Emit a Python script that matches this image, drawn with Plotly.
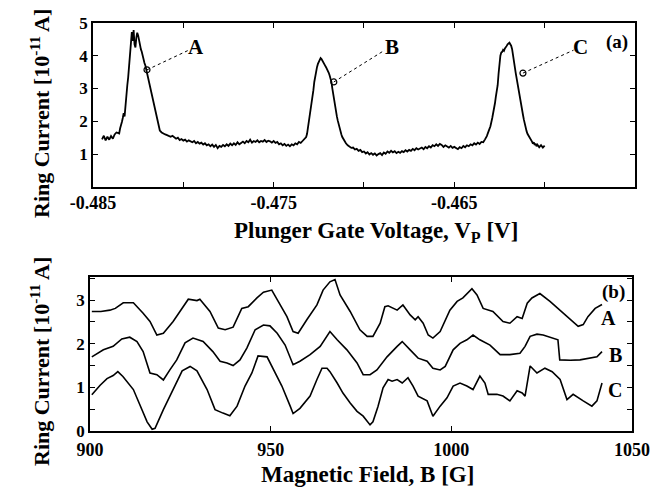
import plotly.graph_objects as go

# ---------------- panel (a) data ----------------
vp = [-0.4845, -0.4844, -0.4843, -0.4842, -0.4841, -0.4840, -0.4839, -0.4838, -0.4837, -0.48355,
      -0.4835, -0.48345, -0.4834, -0.48335, -0.4833, -0.48325, -0.4832, -0.48315, -0.4831, -0.48305,
      -0.4830, -0.48295, -0.4829, -0.48285, -0.4828, -0.48275, -0.4827, -0.48265, -0.4826, -0.48255,
      -0.4825, -0.48245, -0.4824, -0.48235, -0.4823, -0.48225, -0.4822, -0.48215, -0.4821, -0.48205,
      -0.4820, -0.48195, -0.4819, -0.48185, -0.4818, -0.48175, -0.4817, -0.48165, -0.4816, -0.48155,
      -0.4815, -0.48145, -0.4814, -0.48135, -0.4813, -0.4812, -0.4811, -0.4810, -0.4809, -0.4808,
      -0.4807, -0.4806, -0.4805, -0.4804, -0.4803, -0.4802, -0.4801, -0.4800, -0.4799, -0.4798,
      -0.4797, -0.4796, -0.4795, -0.4794, -0.4793, -0.4792, -0.4791, -0.4790, -0.4789, -0.4788,
      -0.4787, -0.4786, -0.4785, -0.4784, -0.4783, -0.4782, -0.4781, -0.4780, -0.4779, -0.4778,
      -0.4777, -0.4776, -0.4775, -0.4774, -0.4773, -0.4772, -0.4771, -0.4770, -0.4769, -0.4768,
      -0.4767, -0.4766, -0.4765, -0.4764, -0.4763, -0.4762, -0.4761, -0.4760, -0.4759, -0.4758,
      -0.4757, -0.4756, -0.4755, -0.4754, -0.4753, -0.4752, -0.4751, -0.4750, -0.4749, -0.4748,
      -0.4747, -0.4746, -0.4745, -0.4744, -0.4743, -0.4742, -0.4741, -0.4740, -0.4739, -0.4738,
      -0.4737, -0.4736, -0.4735, -0.4734, -0.4733, -0.4732, -0.47315, -0.4731, -0.47305, -0.4730,
      -0.47295, -0.4729, -0.47285, -0.4728, -0.47275, -0.4727, -0.47265, -0.4726, -0.47255, -0.4725,
      -0.47245, -0.4724, -0.47235, -0.4723, -0.47225, -0.4722, -0.47215, -0.4721, -0.47205, -0.4720,
      -0.47195, -0.4719, -0.47185, -0.4718, -0.47175, -0.4717, -0.47165, -0.4716, -0.47155, -0.4715,
      -0.47145, -0.4714, -0.47135, -0.4713, -0.47125, -0.4712, -0.47115, -0.4711, -0.47105, -0.4710,
      -0.4709, -0.4708, -0.4707, -0.4706, -0.4705, -0.4704, -0.4703, -0.4702, -0.4701, -0.4700,
      -0.4699, -0.4698, -0.4697, -0.4696, -0.4695, -0.4694, -0.4693, -0.4692, -0.4691, -0.4690,
      -0.4689, -0.4688, -0.4687, -0.4686, -0.4685, -0.4684, -0.4683, -0.4682, -0.4681, -0.4680,
      -0.4679, -0.4678, -0.4677, -0.4676, -0.4675, -0.4674, -0.4673, -0.4672, -0.4671, -0.4670,
      -0.4669, -0.4668, -0.4667, -0.4666, -0.4665, -0.4664, -0.4663, -0.4662, -0.4661, -0.4660,
      -0.4659, -0.4658, -0.4657, -0.4656, -0.4655, -0.4654, -0.4653, -0.4652, -0.4651, -0.4650,
      -0.4649, -0.4648, -0.4647, -0.4646, -0.4645, -0.4644, -0.4643, -0.4642, -0.4641, -0.4640,
      -0.4639, -0.4638, -0.4637, -0.4636, -0.4635, -0.4634, -0.4633, -0.4632, -0.4631, -0.4630,
      -0.4629, -0.4628, -0.46275, -0.4627, -0.46265, -0.4626, -0.46255, -0.4625, -0.46245, -0.4624,
      -0.46235, -0.4623, -0.46225, -0.4622, -0.46215, -0.4621, -0.46205, -0.4620, -0.46195, -0.4619,
      -0.46185, -0.4618, -0.46175, -0.4617, -0.46165, -0.4616, -0.46155, -0.4615, -0.46145, -0.4614,
      -0.46135, -0.4613, -0.46125, -0.4612, -0.46115, -0.4611, -0.46105, -0.4610, -0.46095, -0.4609,
      -0.46085, -0.4608, -0.46075, -0.4607, -0.46065, -0.4606, -0.46055, -0.4605, -0.46045, -0.4604,
      -0.4603, -0.4602, -0.4601, -0.4600, -0.4599, -0.4598, -0.4597, -0.4596, -0.4595, -0.4594,
      -0.4593, -0.4592, -0.4591, -0.4590]
ring_a = [1.45, 1.56, 1.42, 1.53, 1.44, 1.55, 1.47, 1.60, 1.66, 1.63,
          1.78, 1.85, 1.98, 2.10, 2.25, 2.15, 2.55, 2.70, 3.10, 3.35,
          3.70, 3.95, 4.30, 4.72, 4.45, 4.78, 4.35, 4.25, 4.55, 4.70,
          4.62, 4.45, 4.38, 4.20, 4.12, 3.98, 3.90, 3.78, 3.70, 3.57,
          3.50, 3.35, 3.22, 3.05, 2.92, 2.80, 2.70, 2.58, 2.45, 2.30,
          2.15, 2.00, 1.88, 1.76, 1.72, 1.66, 1.62, 1.60, 1.58, 1.55,
          1.53, 1.56, 1.50, 1.47, 1.50, 1.43, 1.46, 1.41, 1.44, 1.38,
          1.42, 1.40, 1.36, 1.40, 1.33, 1.37, 1.32, 1.35, 1.29, 1.33,
          1.27, 1.30, 1.24, 1.29, 1.22, 1.28, 1.18, 1.25, 1.22, 1.28,
          1.24, 1.30, 1.25, 1.32, 1.27, 1.33, 1.28, 1.36, 1.30, 1.34,
          1.38, 1.33, 1.40, 1.36, 1.44, 1.35, 1.40, 1.37, 1.42, 1.36,
          1.40, 1.38, 1.43, 1.37, 1.41, 1.39, 1.35, 1.40, 1.34, 1.37,
          1.30, 1.33, 1.27, 1.31, 1.25, 1.29, 1.24, 1.30, 1.27, 1.33,
          1.30, 1.37, 1.34, 1.40, 1.45, 1.52, 1.62, 1.80, 1.95, 2.10,
          2.30, 2.50, 2.70, 2.95, 3.20, 3.40, 3.55, 3.65, 3.75, 3.82,
          3.88, 3.93, 3.90, 3.86, 3.80, 3.76, 3.70, 3.65, 3.60, 3.55,
          3.48, 3.40, 3.30, 3.20, 3.00, 2.80, 2.60, 2.45, 2.30, 2.15,
          2.02, 1.90, 1.78, 1.68, 1.60, 1.52, 1.47, 1.42, 1.38, 1.33,
          1.27, 1.22, 1.19, 1.20, 1.14, 1.16, 1.10, 1.13, 1.06, 1.08,
          1.02, 1.06, 0.99, 1.03, 0.98, 1.02, 0.96, 1.00, 1.03, 0.97,
          1.05, 1.01, 1.08, 1.04, 1.10, 1.05, 1.09, 1.03, 1.07, 1.04,
          1.09, 1.06, 1.12, 1.08, 1.13, 1.10, 1.16, 1.12, 1.18, 1.14,
          1.16, 1.20, 1.15, 1.22, 1.18, 1.24, 1.20, 1.27, 1.24, 1.30,
          1.25, 1.31, 1.28, 1.22, 1.27, 1.24, 1.20, 1.25, 1.19, 1.22,
          1.17, 1.15, 1.21, 1.18, 1.25, 1.21, 1.27, 1.24, 1.30, 1.27,
          1.33, 1.29, 1.35, 1.31, 1.37, 1.36, 1.45, 1.55, 1.70, 1.85,
          2.10, 2.35, 2.55, 2.75, 2.90, 3.10, 3.45, 3.80, 4.00, 4.10,
          4.12, 4.18, 4.15, 4.22, 4.25, 4.30, 4.35, 4.38, 4.40, 4.35,
          4.30, 4.20, 4.05, 3.85, 3.65, 3.47, 3.30, 3.10, 2.95, 2.80,
          2.65, 2.50, 2.35, 2.20, 2.05, 1.90, 1.78, 1.70, 1.62, 1.58,
          1.50, 1.46, 1.42, 1.38, 1.32, 1.36, 1.28, 1.32, 1.24, 1.29,
          1.21, 1.27, 1.20, 1.26]
# points studied in panel (b) and their labels
pt_x = [-0.48201, -0.47167, -0.46120]
pt_y = [3.57, 3.20, 3.47]
pt_names = ["A", "B", "C"]
lbl_x = [-0.47930, -0.46845, -0.45800]
lbl_y = [4.27, 4.27, 4.27]

# ---------------- panel (b) data ----------------
bA_x = [900.5, 903, 905.5, 907, 909.2, 912, 914.7, 916.6, 918.5, 920.3, 923, 925.4, 927.2, 929.6,
        930.4, 933.2, 935.5, 937.4, 939.6, 942, 943.8, 946.2, 948, 950.3, 952.6, 954.5, 956.2,
        957.6, 960, 962.8, 964.5, 966.4, 967.8, 969.2, 972, 974.7, 976.7, 978.3, 980.3, 981.6,
        982.5, 985, 986.6, 988.6, 990, 990.8, 992.2, 993.6, 994.9, 996.9, 999.6, 1001.6, 1003.2,
        1005.7, 1007.1, 1008.8, 1011.5, 1014.3, 1016.2, 1018.2, 1019.6, 1021, 1022.3, 1024.5,
        1027.3, 1030, 1032.9, 1035.1, 1036.5, 1037.8, 1039.8, 1041.7]
bA_y = [2.74, 2.74, 2.77, 2.81, 2.94, 2.94, 2.70, 2.51, 2.20, 2.24, 2.51, 2.81, 3.02, 2.99,
        3.02, 2.74, 2.36, 2.32, 2.38, 2.81, 2.85, 3.05, 3.18, 3.23, 2.89, 2.62, 2.28,
        2.24, 2.55, 2.89, 3.23, 3.42, 3.47, 3.12, 2.74, 2.32, 2.17, 2.17, 2.47, 2.85,
        2.87, 2.77, 2.89, 2.66, 2.55, 2.62, 2.47, 2.20, 2.13, 2.28, 2.77, 2.97, 3.05,
        3.26, 3.12, 2.81, 2.74, 2.51, 2.47, 2.62, 2.58, 2.93, 3.05, 3.15,
        2.97, 2.77, 2.55, 2.40, 2.44, 2.62, 2.81, 2.90]
bB_x = [900.5, 903.7, 906.4, 908.8, 911, 913, 914.7, 916.6, 918.5, 920.3, 922.1, 924, 926.3,
        928.5, 931.3, 934, 936, 937.9, 939.6, 941.5, 943.4, 945.7, 948, 949.8, 951.8, 954,
        956.2, 958.1, 960.9, 963.7, 966.4, 968.4, 971.1, 973.9, 975.6, 977.5, 979.4, 982.2,
        985, 986.4, 988.6, 990.8, 993.3, 994.9, 996.9, 998.3, 1000.5, 1002.4, 1004.3, 1006,
        1007.9, 1010.7, 1013.5, 1016.2, 1019, 1020.4, 1021.8, 1023.7, 1025.4, 1027.9, 1029.5,
        1030, 1032.9, 1035.6, 1038.4, 1040.3, 1041.7]
bB_y = [1.70, 1.86, 1.94, 2.11, 2.15, 2.05, 1.82, 1.33, 1.29, 1.17, 1.40, 1.63, 2.02,
        2.13, 2.05, 1.82, 1.60, 1.56, 1.50, 1.63, 1.90, 2.32, 2.43, 2.41, 2.24, 1.97,
        1.52, 1.60, 1.75, 1.94, 2.28, 2.09, 1.86, 1.56, 1.29, 1.29, 1.40, 1.70,
        1.94, 2.05, 1.86, 1.67, 1.60, 1.44, 1.40, 1.48, 1.86, 2.01, 2.09, 2.20,
        2.09, 1.97, 1.75, 1.75, 1.78, 1.94, 2.17, 2.22, 2.20, 2.13, 2.09,
        1.63, 1.62, 1.63, 1.67, 1.70, 1.82]
bC_x = [900.5, 902.8, 904.7, 906.4, 907.7, 909.1, 912, 913.8, 915.8, 917.2, 918, 920.3, 923,
        925.5, 927.7, 929.6, 932.4, 934.6, 936.8, 938.7, 940.7, 942.9, 944.8, 946.5, 949,
        950.6, 953.1, 955.4, 956.2, 958.1, 960.9, 962.8, 964.2, 965.6, 966.4, 968.4, 970,
        972, 973.9, 975.6, 977.5, 978.3, 979.7, 981.1, 982.5, 983.6, 985, 986.4, 988, 989.4,
        990.8, 993.3, 994.9, 996.9, 998.8, 1000.5, 1002.4, 1004.3, 1006, 1007.9, 1009.3,
        1010.2, 1012.6, 1014.3, 1016.2, 1018.2, 1019.6, 1020.4, 1021.8, 1023.7, 1025.9,
        1027.9, 1030.1, 1032, 1033.7, 1036.5, 1038.9, 1040.3, 1041.7]
bC_y = [0.83, 1.05, 1.20, 1.27, 1.36, 1.25, 0.95, 0.60, 0.21, 0.04, 0.06, 0.49, 0.95,
        1.38, 1.48, 1.38, 0.95, 0.49, 0.41, 0.35, 0.57, 1.03, 1.33, 1.72, 1.70,
        1.44, 1.03, 0.57, 0.40, 0.52, 0.80, 1.18, 1.44, 1.44, 1.36, 1.10, 0.87,
        0.64, 0.45, 0.34, 0.14, 0.21, 0.56, 0.99, 1.18, 1.14, 1.18, 1.10, 1.22, 1.03,
        0.80, 0.69, 0.34, 0.57, 0.76, 1.03, 1.10, 1.03, 0.95, 1.26, 1.10,
        0.84, 0.84, 0.80, 0.69, 0.92, 0.87, 0.80, 1.49, 1.33, 1.44,
        1.36, 1.18, 0.72, 0.84, 0.69, 0.57, 0.69, 1.10]
b_names = ["A", "B", "C"]
b_lbl_x = [1043.6, 1045.3, 1045.3]
b_lbl_y = [2.60, 1.74, 0.94]

FONT = "Liberation Serif"
fig = go.Figure()

line = dict(color="black", width=1.8)
fig.add_trace(go.Scatter(x=vp, y=ring_a, mode="lines", line=line, xaxis="x", yaxis="y",
                         showlegend=False, hoverinfo="skip"))
# dotted leader lines
for px_, py_, lx, ly in zip(pt_x, pt_y, lbl_x, lbl_y):
    fig.add_trace(go.Scatter(x=[px_, lx - 0.0004], y=[py_, ly - 0.1], mode="lines",
                             line=dict(color="black", width=1, dash="dot"),
                             xaxis="x", yaxis="y", showlegend=False, hoverinfo="skip"))
fig.add_trace(go.Scatter(x=pt_x, y=pt_y, mode="markers",
                         marker=dict(symbol="circle-open", size=6, color="black", line=dict(width=1.2)),
                         xaxis="x", yaxis="y", showlegend=False, hoverinfo="skip"))

for xs, ys in ((bA_x, bA_y), (bB_x, bB_y), (bC_x, bC_y)):
    fig.add_trace(go.Scatter(x=xs, y=ys, mode="lines", line=dict(color="black", width=1.6),
                             xaxis="x2", yaxis="y2", showlegend=False, hoverinfo="skip"))

axis_common = dict(showline=True, linecolor="black", linewidth=1.5, mirror="ticks",
                   ticks="inside", ticklen=5, tickwidth=1.2, tickcolor="black",
                   showgrid=False, zeroline=False, automargin=False)
xtick_font = dict(family=FONT, size=18, color="black", weight="bold")
ytick_font = dict(family=FONT, size=17, color="black", weight="bold")

fig.update_layout(
    width=658, height=488,
    margin=dict(l=0, r=0, t=0, b=0, pad=0, autoexpand=False),
    paper_bgcolor="white", plot_bgcolor="white",
    xaxis=dict(domain=[0.1413, 0.965], anchor="y", range=[-0.485, -0.455],
               tickvals=[-0.485, -0.48, -0.475, -0.47, -0.465, -0.46, -0.455],
               ticktext=["-0.485", "", "-0.475", "", "-0.465", "", "-0.455"],
               ticklabelstandoff=-1, tickfont=xtick_font, **axis_common),
    yaxis=dict(domain=[0.617, 0.953], anchor="x", range=[0, 5.0],
               tickvals=[1, 2, 3, 4, 5], ticktext=["1", "2", "3", "4", "5"],
               ticklabelstandoff=0, tickfont=ytick_font, **axis_common),
    xaxis2=dict(domain=[0.1368, 0.9605], anchor="y2", range=[900, 1050],
                tickvals=[900, 950, 1000, 1050], ticktext=["900", "950", "1000", "1050"],
                ticklabelstandoff=2, tickfont=xtick_font, **axis_common),
    yaxis2=dict(domain=[0.1168, 0.4324], anchor="x2", range=[0, 3.53],
                tickvals=[0, 0.5, 1, 1.5, 2, 2.5, 3, 3.5],
                ticktext=["0", "", "1", "", "2", "", "3", ""],
                ticklabelstandoff=0, tickfont=ytick_font, **axis_common),
)

C = dict(xanchor="center", yanchor="middle", showarrow=False)
anns = []
for n, lx, ly in zip(pt_names, lbl_x, lbl_y):
    anns.append(dict(x=lx, y=ly, xref="x", yref="y", text=n,
                     font=dict(family=FONT, size=21, color="black", weight="bold"), **C))
anns.append(dict(x=-0.4560, y=4.42, xref="x", yref="y", text="(a)",
                 font=dict(family=FONT, size=19, color="black", weight="bold"), **C))
for n, lx, ly in zip(b_names, b_lbl_x, b_lbl_y):
    anns.append(dict(x=lx, y=ly, xref="x2", yref="y2", text=n,
                     font=dict(family=FONT, size=20, color="black", weight="bold"), **C))
anns.append(dict(x=1044.8, y=3.18, xref="x2", yref="y2", text="(b)",
                 font=dict(family=FONT, size=19, color="black", weight="bold"), **C))

xt_font = dict(family=FONT, size=23, color="black", weight="bold")
yt_font = dict(family=FONT, size=22, color="black", weight="bold")
anns.append(dict(x=376 / 658, y=1 - 232 / 488, xref="paper", yref="paper",
                 text="Plunger Gate Voltage, V<sub>P</sub> [V]", font=xt_font, **C))
anns.append(dict(x=367 / 658, y=1 - 474 / 488, xref="paper", yref="paper",
                 text="Magnetic Field, B [G]", font=xt_font, **C))
anns.append(dict(x=40 / 658, y=1 - 114 / 488, xref="paper", yref="paper", textangle=-90,
                 text="Ring Current [10<sup>-11</sup> A]", font=yt_font, **C))
anns.append(dict(x=40 / 658, y=1 - 362 / 488, xref="paper", yref="paper", textangle=-90,
                 text="Ring Current [10<sup>-11</sup> A]", font=yt_font, **C))
fig.update_layout(annotations=anns)

fig.write_html("out.html")
